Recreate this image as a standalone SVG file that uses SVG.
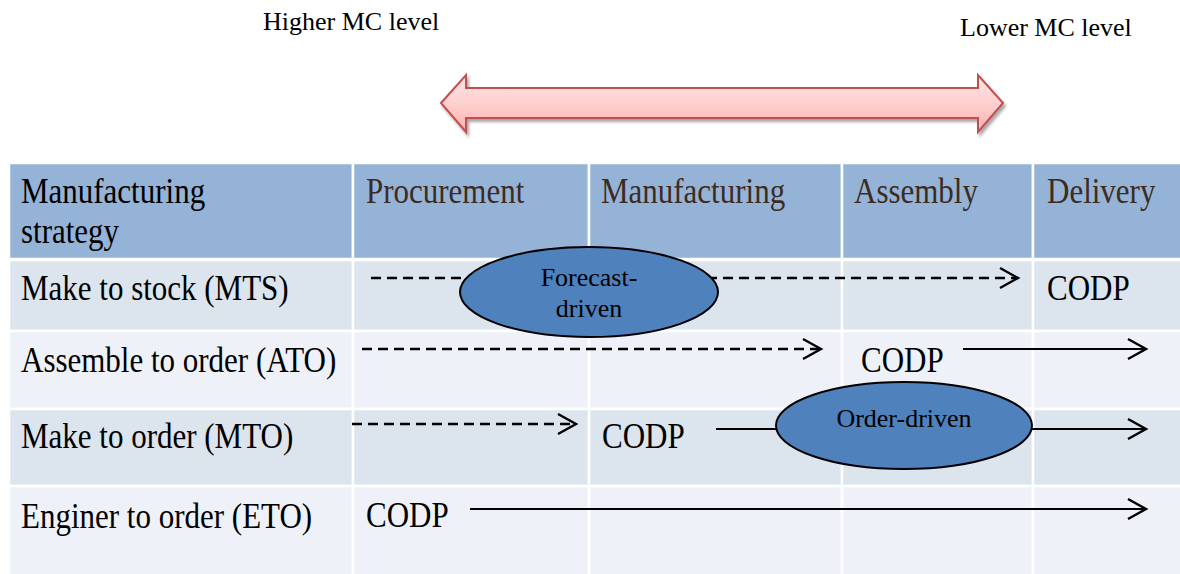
<svg xmlns="http://www.w3.org/2000/svg" width="1180" height="574" viewBox="0 0 1180 574">
<style>
.tx{font-family:"Liberation Serif","Times New Roman",serif;font-size:31px;fill:#000}
.hdt{fill:#3d2b1f}
.top{font-family:"Liberation Serif","Times New Roman",serif;font-size:26px;fill:#000}
.el{font-family:"Liberation Serif","Times New Roman",serif;font-size:26px;fill:#000;text-anchor:middle}
.cell{stroke:#fff;stroke-width:2.5}
.hd{fill:#95b3d7}
.dk{fill:#dce4ee}
.lt{fill:#eef2f8}
.dash{stroke:#000;stroke-width:2.4;stroke-dasharray:10 6;fill:none}
.solid{stroke:#000;stroke-width:2.2;fill:none}
.ell{fill:#4f81bd;stroke:#000;stroke-width:2}
</style>
<defs>
<marker id="ah" markerWidth="24" markerHeight="24" viewBox="0 0 24 24" refX="20" refY="12" orient="auto" markerUnits="userSpaceOnUse">
<path d="M2,2 L20,12 L2,22" fill="none" stroke="#000" stroke-width="2.4"/>
</marker>
<linearGradient id="pink" x1="0" y1="0" x2="0" y2="1">
<stop offset="0" stop-color="#ffe3e3"/>
<stop offset="0.5" stop-color="#ffcfcf"/>
<stop offset="1" stop-color="#ffb0b0"/>
</linearGradient>
<filter id="sh" x="-5%" y="-30%" width="110%" height="160%">
<feDropShadow dx="2" dy="3" stdDeviation="1.5" flood-color="#000" flood-opacity="0.35"/>
</filter>
</defs>

<g id="labels">
<text class="top" x="263" y="30">Higher MC level</text>
<text class="top" x="960" y="36">Lower MC level</text>
</g>

<g id="mc-arrow">
<polygon points="441,103 466,75 466,88 978,88 978,75 1003,103 978,132 978,118 466,118 466,132" fill="url(#pink)" stroke="#c0504d" stroke-width="2" filter="url(#sh)"/>
</g>

<g id="table">
<rect class="cell hd" x="9" y="163" width="344" height="96"/>
<rect class="cell hd" x="353" y="163" width="236" height="96"/>
<rect class="cell hd" x="589" y="163" width="253" height="96"/>
<rect class="cell hd" x="842" y="163" width="191" height="96"/>
<rect class="cell hd" x="1033" y="163" width="150" height="96"/>

<rect class="cell dk" x="9" y="260" width="344" height="71"/>
<rect class="cell dk" x="353" y="260" width="236" height="71"/>
<rect class="cell dk" x="589" y="260" width="253" height="71"/>
<rect class="cell dk" x="842" y="260" width="191" height="71"/>
<rect class="cell dk" x="1033" y="260" width="150" height="71"/>

<rect class="cell lt" x="9" y="331" width="344" height="78"/>
<rect class="cell lt" x="353" y="331" width="236" height="78"/>
<rect class="cell lt" x="589" y="331" width="253" height="78"/>
<rect class="cell lt" x="842" y="331" width="191" height="78"/>
<rect class="cell lt" x="1033" y="331" width="150" height="78"/>

<rect class="cell dk" x="9" y="409" width="344" height="77"/>
<rect class="cell dk" x="353" y="409" width="236" height="77"/>
<rect class="cell dk" x="589" y="409" width="253" height="77"/>
<rect class="cell dk" x="842" y="409" width="191" height="77"/>
<rect class="cell dk" x="1033" y="409" width="150" height="77"/>

<rect class="cell lt" x="9" y="486" width="344" height="92"/>
<rect class="cell lt" x="353" y="486" width="236" height="92"/>
<rect class="cell lt" x="589" y="486" width="253" height="92"/>
<rect class="cell lt" x="842" y="486" width="191" height="92"/>
<rect class="cell lt" x="1033" y="486" width="150" height="92"/>
</g>

<g id="table-text">
<text class="tx" transform="translate(21,203) scale(1,1.13)">Manufacturing</text>
<text class="tx" transform="translate(21,243) scale(1,1.13)">strategy</text>
<text class="tx hdt" transform="translate(366,203) scale(1,1.13)">Procurement</text>
<text class="tx hdt" transform="translate(601,203) scale(1,1.13)">Manufacturing</text>
<text class="tx hdt" transform="translate(854,203) scale(1,1.13)">Assembly</text>
<text class="tx hdt" transform="translate(1047,203) scale(1,1.13)">Delivery</text>

<text class="tx" transform="translate(21,300) scale(1,1.13)">Make to stock (MTS)</text>
<text class="tx" transform="translate(21,372) scale(1,1.13)">Assemble to order (ATO)</text>
<text class="tx" transform="translate(21,448) scale(1,1.13)">Make to order (MTO)</text>
<text class="tx" transform="translate(21,528) scale(1,1.13)">Enginer to order (ETO)</text>

<text class="tx" transform="translate(1047,300) scale(1,1.13)">CODP</text>
<text class="tx" transform="translate(861,372) scale(1,1.13)">CODP</text>
<text class="tx" transform="translate(602,448) scale(1,1.13)">CODP</text>
<text class="tx" transform="translate(366,527) scale(1,1.13)">CODP</text>
</g>

<g id="connectors">
<line class="dash" x1="371" y1="278" x2="1018" y2="278" marker-end="url(#ah)"/>
<line class="dash" x1="362" y1="349" x2="821" y2="349" marker-end="url(#ah)"/>
<line class="solid" x1="963" y1="349" x2="1146" y2="349" marker-end="url(#ah)"/>
<line class="dash" x1="352" y1="424" x2="576" y2="424" marker-end="url(#ah)"/>
<line class="solid" x1="716" y1="429" x2="1146" y2="429" marker-end="url(#ah)"/>
<line class="solid" x1="470" y1="509" x2="1146" y2="509" marker-end="url(#ah)"/>
</g>

<g id="forecast-driven">
<ellipse class="ell" cx="589" cy="292" rx="129" ry="45"/>
<text class="el" x="589" y="286">Forecast-</text>
<text class="el" x="589" y="317">driven</text>
</g>

<g id="order-driven">
<ellipse class="ell" cx="904" cy="425.5" rx="128" ry="43.5"/>
<text class="el" x="904" y="427">Order-driven</text>
</g>
</svg>
